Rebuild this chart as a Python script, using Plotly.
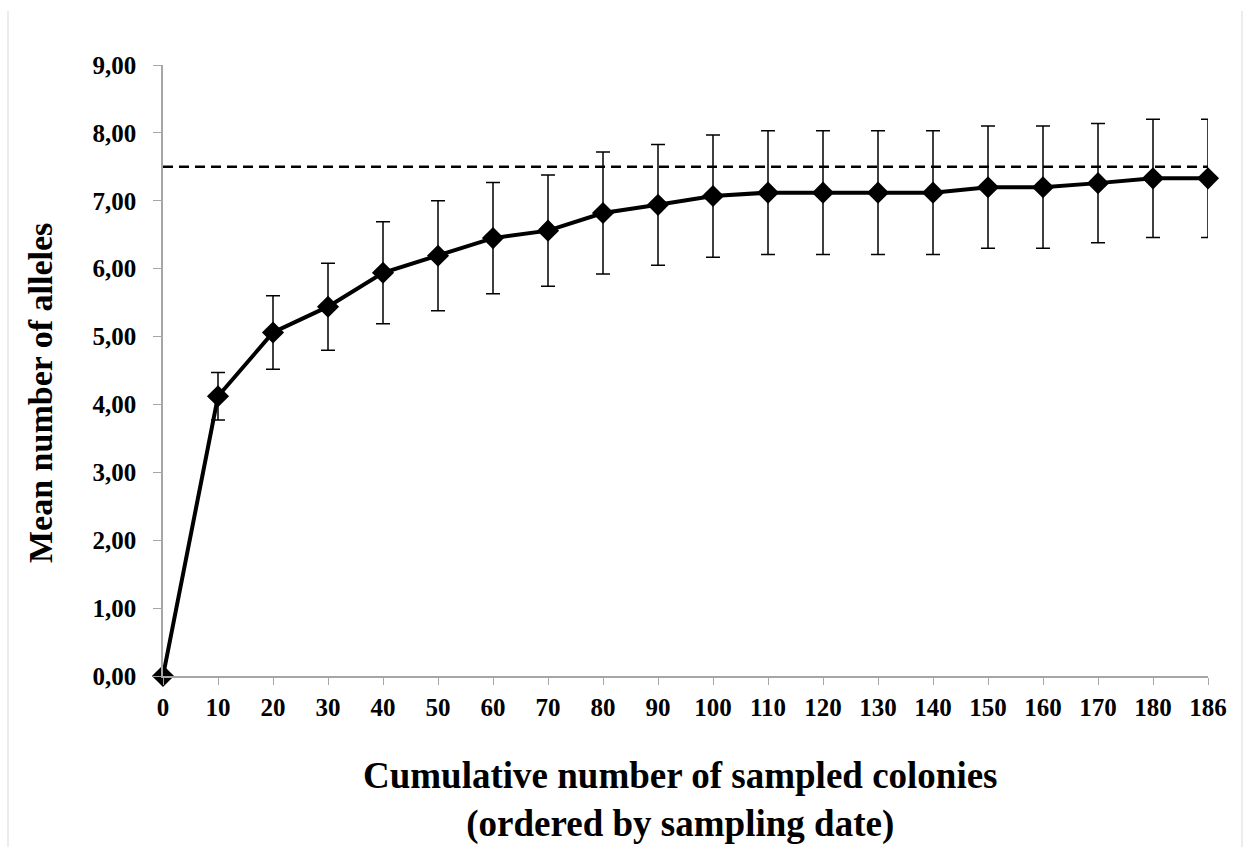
import plotly.graph_objects as go

# ---- data ----
categories = ["0", "10", "20", "30", "40", "50", "60", "70", "80", "90",
              "100", "110", "120", "130", "140", "150", "160", "170", "180", "186"]
mean_alleles = [0.00, 4.12, 5.06, 5.44, 5.94, 6.19, 6.45, 6.56, 6.82, 6.94,
                7.07, 7.12, 7.12, 7.12, 7.12, 7.20, 7.20, 7.26, 7.33, 7.33]
error_sd = [0.00, 0.35, 0.54, 0.64, 0.75, 0.81, 0.82, 0.82, 0.90, 0.89,
            0.90, 0.91, 0.91, 0.91, 0.91, 0.90, 0.90, 0.88, 0.87, 0.87]
reference_level = 7.5
y_ticks = [0, 1, 2, 3, 4, 5, 6, 7, 8, 9]

W, H = 1245, 847
L, R, T, B = 163, 37, 65, 171
pw, ph = W - L - R, H - T - B

def px_x(x):
    return (x - L) / pw

def px_y(y):
    return (H - B - y) / ph

font_family = "Liberation Serif, Times New Roman, serif"
axis_grey = "#a6a6a6"

fig = go.Figure()

fig.add_trace(go.Scatter(
    x=categories, y=[reference_level] * len(categories),
    mode="lines", line=dict(color="black", width=2.5, dash="10px,6px"),
    hoverinfo="skip", showlegend=False, cliponaxis=False,
))

fig.add_trace(go.Scatter(
    x=categories, y=mean_alleles,
    mode="lines+markers",
    line=dict(color="black", width=4),
    marker=dict(symbol="diamond", size=17, color="black"),
    error_y=dict(type="data", array=error_sd, visible=True,
                 color="black", thickness=1.5, width=7),
    showlegend=False, cliponaxis=False,
))

fig.update_layout(
    width=W, height=H,
    margin=dict(l=L, r=R, t=T, b=B),
    paper_bgcolor="white", plot_bgcolor="white",
    separators=", ",
    font=dict(family=font_family, color="black"),
    xaxis=dict(
        type="category", range=[0, len(categories) - 1],
        showline=True, linecolor=axis_grey, linewidth=1.5,
        ticks="outside", ticklen=7, tickcolor=axis_grey, tickwidth=1.2,
        showgrid=False, zeroline=False,
        tickfont=dict(family=font_family, size=25, color="black", weight="bold"),
        ticklabelstandoff=1,
    ),
    yaxis=dict(
        range=[0, 9], tickvals=y_ticks, tickformat=".2f",
        showline=True, linecolor=axis_grey, linewidth=1.5,
        ticks="outside", ticklen=8, tickcolor=axis_grey, tickwidth=1.2,
        showgrid=False, zeroline=False,
        tickfont=dict(family=font_family, size=25, color="black", weight="bold"),
        ticklabelstandoff=12,
    ),
    annotations=[
        dict(text="<b>Mean number of alleles</b>", textangle=-90,
             xref="paper", yref="paper", x=px_x(40), y=px_y(393),
             showarrow=False, font=dict(family=font_family, size=34, color="black"),
             xanchor="center", yanchor="middle"),
        dict(text="<b>Cumulative number of sampled colonies</b><br><b>(ordered by sampling date)</b>",
             xref="paper", yref="paper", x=px_x(680), y=px_y(800),
             showarrow=False, font=dict(family=font_family, size=37, color="black"),
             xanchor="center", yanchor="middle", align="center"),
    ],
    shapes=[
        dict(type="line", xref="paper", yref="paper",
             x0=px_x(8), x1=px_x(8), y0=px_y(11), y1=px_y(H + 5),
             line=dict(color="#d9d9d9", width=1)),
        dict(type="line", xref="paper", yref="paper",
             x0=px_x(1242), x1=px_x(1242), y0=px_y(11), y1=px_y(H + 5),
             line=dict(color="#d9d9d9", width=1)),
    ],
)

fig.write_html("out.html",
               config={"displayModeBar": False},
               post_script="document.body.style.margin='0';document.body.style.padding='0';")
